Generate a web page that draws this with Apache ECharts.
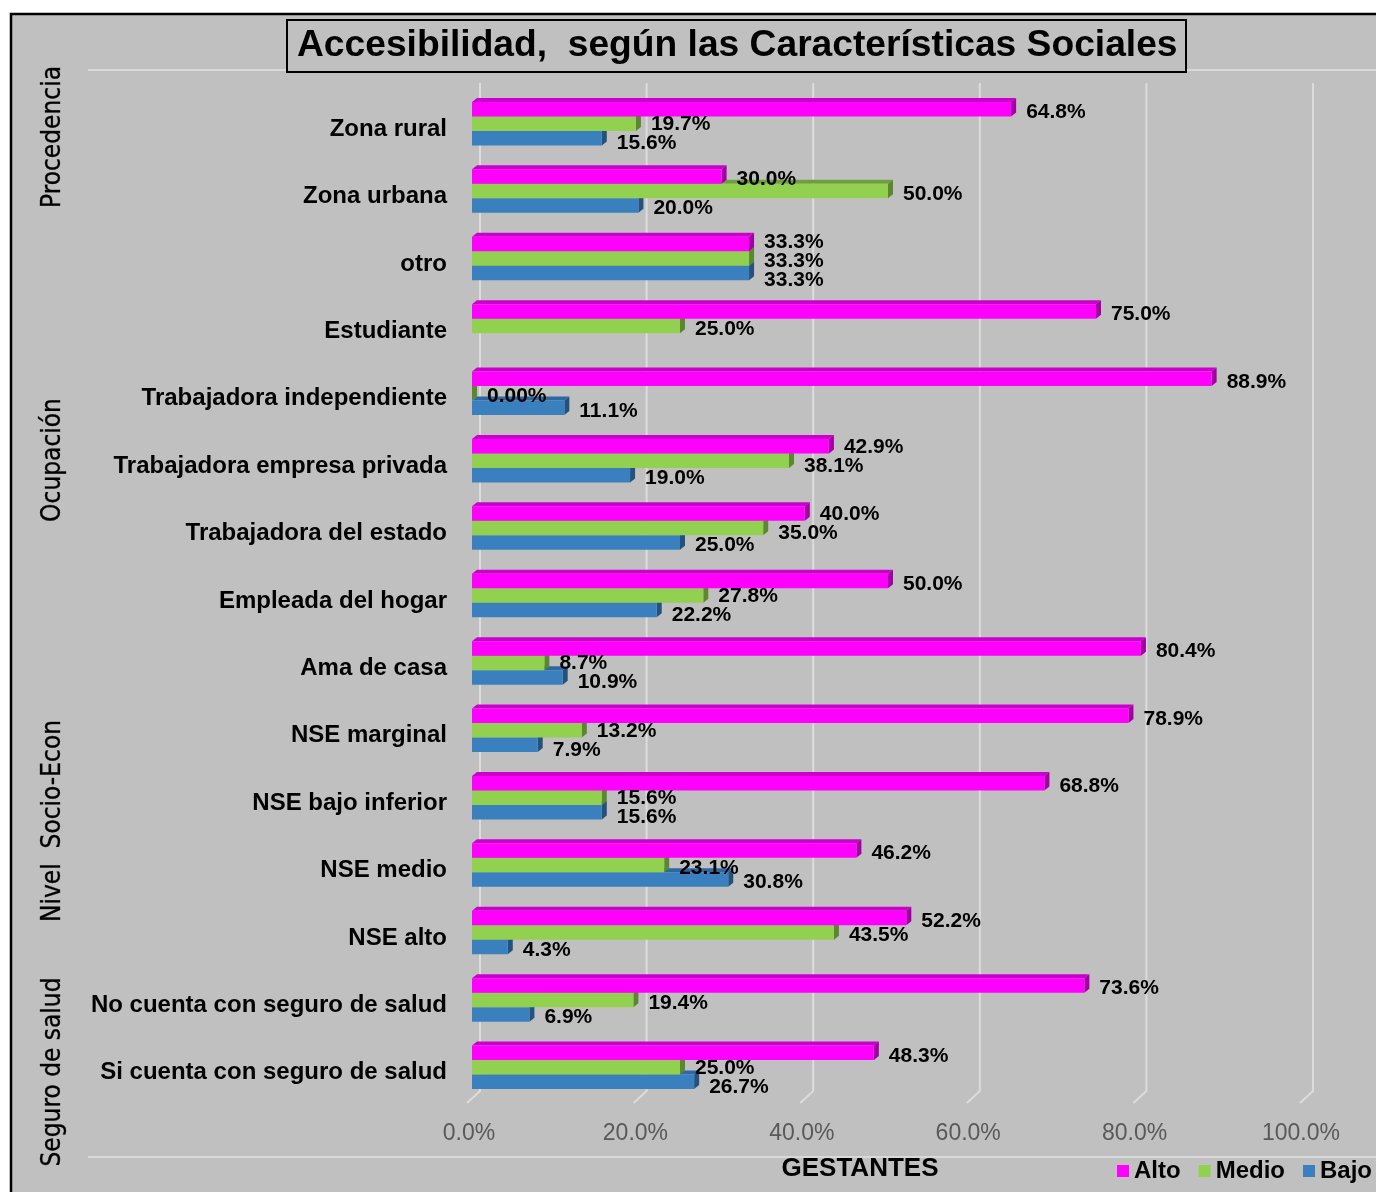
<!DOCTYPE html>
<html lang="es">
<head>
<meta charset="utf-8">
<title>Accesibilidad, según las Características Sociales</title>
<script src="https://cdn.jsdelivr.net/npm/echarts@6/dist/echarts.min.js"></script>
<style>
  html, body { margin: 0; padding: 0; background: #ffffff; }
  #chart { width: 1376px; height: 1192px; }
</style>
</head>
<body>
<div id="chart"></div>
<script>
// Categorías (de arriba hacia abajo)
const categories = [
  'Zona rural',
  'Zona urbana',
  'otro',
  'Estudiante',
  'Trabajadora independiente',
  'Trabajadora empresa privada',
  'Trabajadora del estado',
  'Empleada del hogar',
  'Ama de casa',
  'NSE marginal',
  'NSE bajo inferior',
  'NSE medio',
  'NSE alto',
  'No cuenta con seguro de salud',
  'Si cuenta con seguro de salud'
];

// Porcentaje de gestantes por nivel de accesibilidad
const alto  = [64.8, 30.0, 33.3, 75.0, 88.9, 42.9, 40.0, 50.0, 80.4, 78.9, 68.8, 46.2, 52.2, 73.6, 48.3];
const medio = [19.7, 50.0, 33.3, 25.0, 0.0, 38.1, 35.0, 27.8, 8.7, 13.2, 15.6, 23.1, 43.5, 19.4, 25.0];
const bajo  = [15.6, 20.0, 33.3, null, 11.1, 19.0, 25.0, 22.2, 10.9, 7.9, 15.6, 30.8, 4.3, 6.9, 26.7];

// Marcas del eje de valores
const ticks = [0, 20, 40, 60, 80, 100];

// Agrupaciones de categorías (texto vertical a la izquierda)
const groups = ['Procedencia', 'Ocupación', 'Nivel  Socio-Econ', 'Seguro de salud'];

const levelNames = ['Alto', 'Medio', 'Bajo'];
const levelValues = [alto, medio, bajo];
const palette = [
  { face: '#ff00ff', top: '#cc00cc', side: '#a300a3' },
  { face: '#92d050', top: '#6f9e3c', side: '#5b8730' },
  { face: '#3a7fbe', top: '#2e68a0', side: '#24527e' }
];

const FONT = '"Liberation Sans", Arial, sans-serif';
const BAR_H = 14.5;   // alto de cada barra
const DX = 5, DY = 4; // profundidad 3D
const LABEL_W = 60, LABEL_H = 19;

function fmt(v) {
  return v === 0 ? '0.00%' : v.toFixed(1) + '%';
}

// Posición vertical de las etiquetas de una categoría, separando las que se pisan
function labelOffsets(api, i, yc) {
  const items = [];
  for (let k = 0; k < 3; k++) {
    const v = levelValues[k][i];
    if (v === null || v === undefined) continue;
    items.push({ k, x: api.coord([v, i])[0] + 15, y: yc + (k - 1) * BAR_H + 3 });
  }
  for (let it = 0; it < 12; it++) {
    for (let a = 0; a < items.length - 1; a++) {
      const p = items[a], q = items[a + 1];
      if (Math.abs(p.x - q.x) < LABEL_W && q.y - p.y < LABEL_H) {
        const d = (LABEL_H - (q.y - p.y)) / 2;
        p.y -= d; q.y += d;
      }
    }
  }
  const out = {};
  items.forEach(o => { out[o.k] = o; });
  return out;
}

function barRenderer(k) {
  return function (params, api) {
    const v = api.value(0);
    const i = api.value(1);
    const base = api.coord([0, i]);
    const x0 = base[0], yc = base[1];
    const x1 = api.coord([v, i])[0];
    const yTop = yc + (k - 1) * BAR_H - BAR_H / 2;
    const yBot = yTop + BAR_H;
    const col = palette[k];
    const lab = labelOffsets(api, i, yc)[k];
    const z = 2 * (3 - k);
    return {
      type: 'group',
      children: [
        {
          type: 'polygon', z2: z,
          shape: { points: [[x0, yTop], [x0 + DX, yTop - DY], [x1 + DX, yTop - DY], [x1, yTop]] },
          style: { fill: col.top }
        },
        {
          type: 'polygon', z2: z,
          shape: { points: [[x1, yTop], [x1 + DX, yTop - DY], [x1 + DX, yBot - DY], [x1, yBot]] },
          style: { fill: col.side }
        },
        {
          type: 'rect', z2: z + 1,
          shape: { x: x0, y: yTop, width: Math.max(0, x1 - x0), height: BAR_H },
          style: { fill: col.face }
        },
        {
          type: 'text', z2: 100,
          x: lab.x, y: lab.y,
          style: {
            text: fmt(v),
            fontSize: 21, fontWeight: 'bold', fontFamily: FONT,
            fill: '#000000', align: 'left', verticalAlign: 'middle'
          }
        }
      ]
    };
  };
}

const barSeries = levelNames.map((name, k) => ({
  name,
  type: 'custom',
  xAxisIndex: 0,
  yAxisIndex: 0,
  z: 3,
  itemStyle: { color: palette[k].face },
  encode: { x: 0, y: 1 },
  data: levelValues[k]
    .map((v, i) => [v, i])
    .filter(d => d[0] !== null && d[0] !== undefined),
  renderItem: barRenderer(k)
}));

// Líneas de división del fondo, con su quiebre en perspectiva
const gridSeries = {
  name: 'rejilla',
  type: 'custom',
  xAxisIndex: 1,
  yAxisIndex: 1,
  z: 1,
  silent: true,
  data: ticks.map(t => [t]),
  encode: { x: 0 },
  renderItem: function (params, api) {
    const v = api.value(0);
    const top = api.coord([v, 1]);
    const bot = api.coord([v, 0]);
    return {
      type: 'polyline',
      shape: { points: [top, bot, [bot[0] - 13, bot[1] + 12]] },
      style: { stroke: '#dcdcdc', lineWidth: 2, fill: null }
    };
  }
};

const groupPos = [137, 460, 821, 1072];

const chart = echarts.init(document.getElementById('chart'), null, { renderer: 'canvas' });

chart.setOption({
  backgroundColor: '#ffffff',
  animation: false,
  title: {
    text: 'Accesibilidad,  según las Características Sociales',
    left: 287,
    top: 20,
    padding: [7, 9, 7, 10],
    borderColor: '#000000',
    borderWidth: 2,
    backgroundColor: '#c0c0c0',
    textStyle: {
      fontFamily: FONT,
      fontSize: 37.2,
      fontWeight: 'bold',
      color: '#000000',
      lineHeight: 38
    }
  },
  legend: {
    data: levelNames,
    left: 1117,
    top: 1159,
    icon: 'rect',
    itemWidth: 12,
    itemHeight: 12,
    itemGap: 18,
    padding: 0,
    textStyle: {
      fontFamily: FONT,
      fontSize: 24,
      fontWeight: 'bold',
      color: '#000000',
      lineHeight: 24
    }
  },
  graphic: [
    {
      type: 'rect', z: -10, silent: true,
      shape: { x: 11, y: 14, width: 1400, height: 1220 },
      style: { fill: '#c0c0c0', stroke: '#000000', lineWidth: 2.5 }
    },
    {
      type: 'line', z: -5, silent: true,
      shape: { x1: 88, y1: 70, x2: 1376, y2: 70 },
      style: { stroke: '#d9d9d9', lineWidth: 2 }
    },
    {
      type: 'line', z: -5, silent: true,
      shape: { x1: 88, y1: 1157, x2: 1376, y2: 1157 },
      style: { stroke: '#d9d9d9', lineWidth: 2 }
    },
    ...groups.map((g, j) => ({
      type: 'text', silent: true,
      x: 53, y: groupPos[j],
      rotation: Math.PI / 2,
      style: {
        text: g,
        fontFamily: '"DejaVu Sans Condensed", "DejaVu Sans", sans-serif',
        fontSize: 26,
        fill: '#000000',
        stroke: '#333333',
        lineWidth: 0.4,
        align: 'center',
        verticalAlign: 'middle'
      }
    }))
  ],
  grid: [
    { left: 472, right: 72, top: 90, bottom: 91, containLabel: false },
    { left: 480, right: 63, top: 83, bottom: 101, containLabel: false }
  ],
  xAxis: [
    {
      type: 'value',
      gridIndex: 0,
      min: 0,
      max: 100,
      interval: 20,
      axisLine: { show: false },
      axisTick: { show: false },
      splitLine: { show: false },
      axisLabel: {
        formatter: v => v.toFixed(1) + '%',
        color: '#595959',
        fontFamily: FONT,
        fontSize: 23,
        margin: 21,
        padding: [0, 6, 0, 0]
      },
      name: 'GESTANTES',
      nameLocation: 'middle',
      nameGap: 55,
      nameTextStyle: {
        fontFamily: FONT,
        fontSize: 26,
        fontWeight: 'bold',
        color: '#000000',
        padding: [0, 56, 0, 0]
      }
    },
    {
      type: 'value',
      gridIndex: 1,
      min: 0,
      max: 100,
      show: false
    }
  ],
  yAxis: [
    {
      type: 'category',
      gridIndex: 0,
      inverse: true,
      data: categories,
      axisLine: { show: false },
      axisTick: { show: false },
      splitLine: { show: false },
      axisLabel: {
        margin: 25,
        // una línea vacía encima baja el texto unos píxeles
        formatter: v => '{s| }\n{t|' + v + '}',
        rich: {
          s: { fontSize: 2, lineHeight: 11 },
          t: {
            fontFamily: FONT,
            fontSize: 24,
            fontWeight: 'bold',
            color: '#000000',
            lineHeight: 28
          }
        }
      }
    },
    {
      type: 'value',
      gridIndex: 1,
      min: 0,
      max: 1,
      show: false
    }
  ],
  series: [gridSeries, ...barSeries]
});
</script>
</body>
</html>
